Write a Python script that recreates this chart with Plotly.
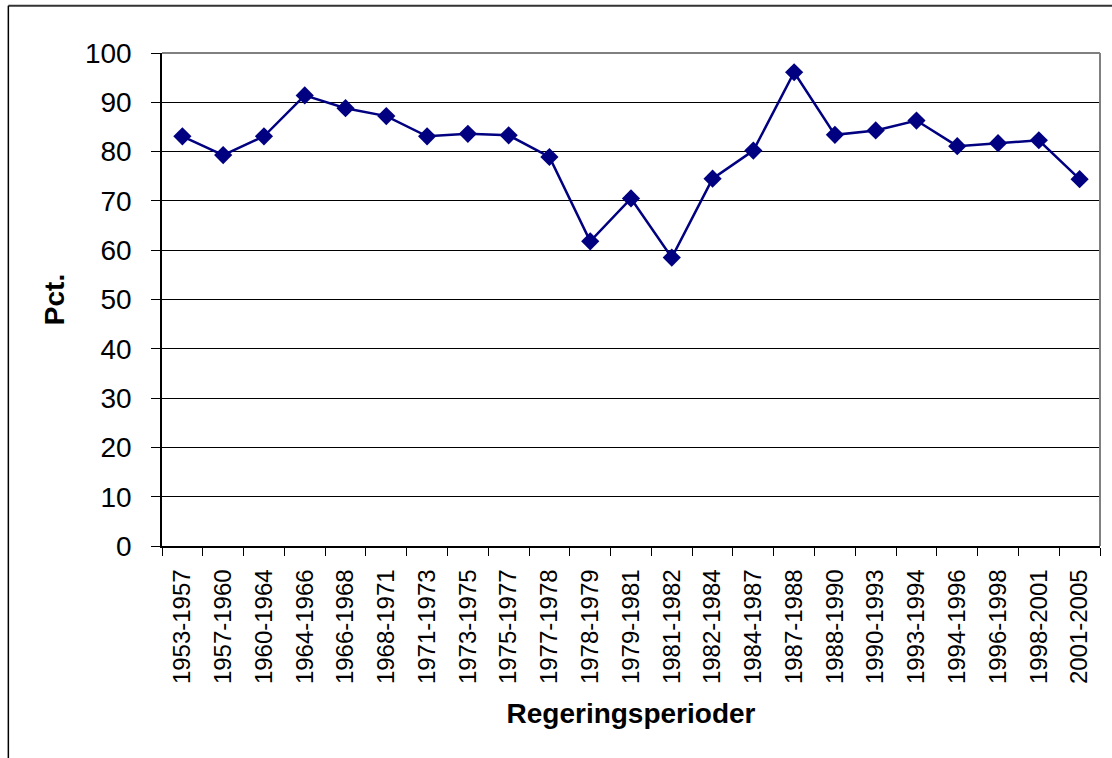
import plotly.graph_objects as go

periods = ["1953-1957", "1957-1960", "1960-1964", "1964-1966", "1966-1968",
           "1968-1971", "1971-1973", "1973-1975", "1975-1977", "1977-1978",
           "1978-1979", "1979-1981", "1981-1982", "1982-1984", "1984-1987",
           "1987-1988", "1988-1990", "1990-1993", "1993-1994", "1994-1996",
           "1996-1998", "1998-2001", "2001-2005"]
pct = [83.1, 79.3, 83.1, 91.4, 88.8, 87.2, 83.1, 83.6, 83.3, 78.9,
       61.8, 70.5, 58.5, 74.5, 80.2, 96.1, 83.4, 84.3, 86.3, 81.1,
       81.7, 82.3, 74.4]
y_ticks = [0, 10, 20, 30, 40, 50, 60, 70, 80, 90, 100]

W, H = 1112, 758
L, R, T, B = 161.7, 1100.0, 53.3, 546.5

fig = go.Figure()
fig.add_trace(go.Scatter(
    x=periods, y=pct, mode="lines+markers",
    line=dict(color="#000080", width=2.5),
    marker=dict(symbol="diamond", size=14, color="#000080"),
    showlegend=False, hoverinfo="x+y",
))

font = "Liberation Sans, Arial, sans-serif"

def px_x(px):
    return (px - L) / (R - L)

def px_y(py):
    return (B - py) / (B - T)

shapes = [
    # plot area border (top and right) in gray
    dict(type="line", xref="paper", yref="paper", x0=0, x1=1, y0=1, y1=1,
         line=dict(color="#808080", width=2)),
    dict(type="line", xref="paper", yref="paper", x0=1, x1=1, y0=0, y1=1,
         line=dict(color="#808080", width=2)),
    # outer frame
    dict(type="line", xref="paper", yref="paper", x0=px_x(8), x1=px_x(1125),
         y0=px_y(6), y1=px_y(6), line=dict(color="#333333", width=2)),
    dict(type="line", xref="paper", yref="paper", x0=px_x(8), x1=px_x(8),
         y0=px_y(6), y1=px_y(770), line=dict(color="#000000", width=1.5)),
]

fig.update_layout(
    width=W, height=H,
    margin=dict(l=L, r=W - R, t=T, b=H - B, pad=0),
    paper_bgcolor="white", plot_bgcolor="white",
    font=dict(family=font, color="black"),
    shapes=shapes,
    xaxis=dict(
        type="category", range=[-0.5, len(periods) - 0.5],
        tickson="boundaries", ticks="outside", ticklen=8, tickcolor="black",
        tickwidth=1, showgrid=False, showline=True, linecolor="black",
        linewidth=1.5, tickangle=-90, tickfont=dict(size=24, family=font),
        ticklabelstandoff=12,
        title=dict(text="<b>Regeringsperioder</b>", font=dict(size=28, family=font),
                   standoff=20),
        zeroline=False,
    ),
    yaxis=dict(
        range=[0, 100], tickvals=y_ticks, ticks="outside", ticklen=9,
        tickcolor="black", tickwidth=1, showline=True, linecolor="black",
        linewidth=1.5, showgrid=True, gridcolor="black", gridwidth=1,
        tickfont=dict(size=28, family=font), ticklabelstandoff=14,
        title=dict(text="<b>Pct.</b>", font=dict(size=28, family=font), standoff=12),
        zeroline=False,
    ),
)

fig.write_html("out.html", config={"displayModeBar": False},
               post_script="document.body.style.margin='0';document.body.style.overflow='hidden';")
